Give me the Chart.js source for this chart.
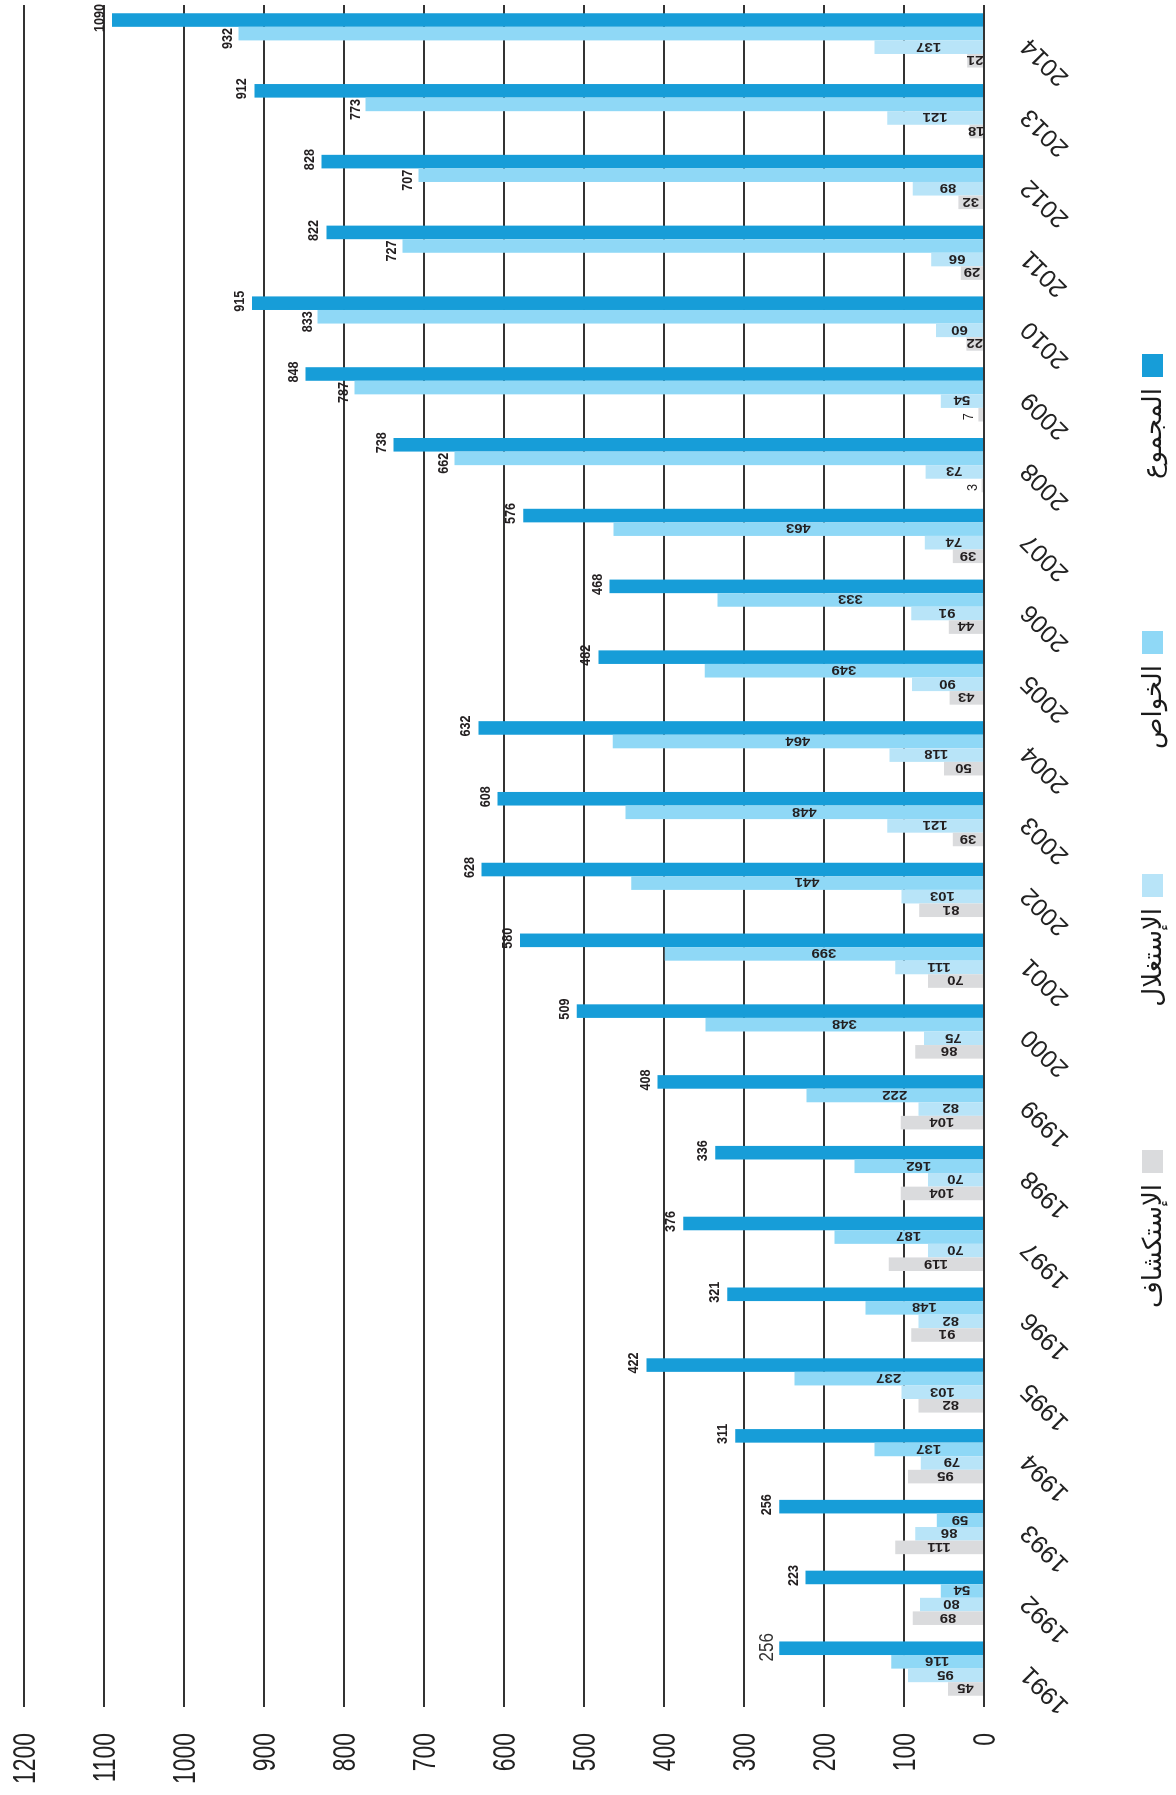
<!DOCTYPE html>
<html>
<head>
<meta charset="utf-8">
<script src="https://cdn.jsdelivr.net/npm/chart.js@4.4.1/dist/chart.umd.min.js"></script>
<style>
html,body{margin:0;padding:0;background:#fff;overflow:hidden;width:1176px;height:1795px;}
#wrap{position:absolute;left:0;top:0;width:1795px;height:1176px;transform-origin:0 0;transform:translate(0px,1795px) rotate(-90deg);}
canvas{display:block;}
</style>
</head>
<body>
<div id="wrap"><canvas id="c" width="1795" height="1176"></canvas></div>
<script>
// ---- data ----
const years = ['1991','1992','1993','1994','1995','1996','1997','1998','1999','2000','2001','2002','2003','2004','2005','2006','2007','2008','2009','2010','2011','2012','2013','2014'];
const exploration   = [45,89,111,95,82,91,119,104,104,86,70,81,39,50,43,44,39,3,7,22,29,32,18,21];
const exploitation  = [95,80,86,79,103,82,70,70,82,75,111,103,121,118,90,91,74,73,54,60,66,89,121,137];
const privateSector = [116,54,59,137,237,148,187,162,222,348,399,441,448,464,349,333,463,662,787,833,727,707,773,932];
const total         = [256,223,256,311,422,321,376,336,408,509,580,628,608,632,482,468,576,738,848,915,822,828,912,1090];
const seriesLabels  = ['الإستكشاف','الإستغلال','الخواص','المجموع'];
const valueTicks    = [0,100,200,300,400,500,600,700,800,900,1000,1100,1200];

const colors = ['#dadbdd','#b8e4f8','#8fd8f6','#179dd8'];
const W = 1795; // unrotated canvas width (= page height)
const FONT = '"Liberation Sans", Arial, sans-serif';
const AR_FONT = '"DejaVu Sans", sans-serif';
const TXT = '#231f20';

function txt(ctx, s, X, Y, ang, o) {
  ctx.save();
  ctx.translate(X, Y);
  ctx.rotate(ang);
  ctx.scale(o.sx || 1, 1);
  ctx.font = (o.weight || 'normal') + ' ' + o.size + 'px ' + (o.family || FONT);
  ctx.textAlign = o.align || 'center';
  ctx.textBaseline = 'alphabetic';
  ctx.fillStyle = o.color || TXT;
  ctx.fillText(s, 0, o.vc ? 0.358 * o.size : 0);
  ctx.restore();
}

const imageText = {
  id: 'imageText',
  afterDraw(chart) {
    const ctx = chart.ctx;
    const r = chart.currentDevicePixelRatio || 1;
    const ys = chart.scales.y, xs = chart.scales.x;
    ctx.save();
    // draw in page (rotated) coordinates
    ctx.setTransform(0, r, -r, 0, W * r, 0);

    // value axis tick labels
    ys.ticks.forEach(t => {
      const X = ys.getPixelForValue(t.value);
      txt(ctx, String(t.value), X, 1733, -Math.PI / 2, {size: 31, sx: 0.74, align: 'right', vc: true, color: '#222'});
    });

    // category labels
    years.forEach((yr, j) => {
      const Y = W - xs.getPixelForValue(j) + 3;
      txt(ctx, yr, 1024, Y, Math.PI * 1.25, {size: 25, align: 'right', vc: true, color: '#222'});
    });

    // value labels
    const all = [exploration, exploitation, privateSector, total];
    all.forEach((arr, i) => {
      const meta = chart.getDatasetMeta(i);
      arr.forEach((v, j) => {
        const el = meta.data[j];
        const endX = el.y, baseX = el.base, cY = W - el.x;
        if (i === 3) {
          if (j === 0) {
            txt(ctx, String(v), endX - 6, cY - 1, -Math.PI / 2, {size: 20, sx: 0.85, color: '#333'});
          } else {
            txt(ctx, String(v), endX - 8, cY - 2, -Math.PI / 2, {size: 14, weight: 'bold', sx: 0.9});
          }
        } else if (i === 2 && v >= 600) {
          txt(ctx, String(v), endX - 6, cY + 5, -Math.PI / 2, {size: 14, weight: 'bold', sx: 0.9});
        } else if (v < 10) {
          txt(ctx, String(v), endX - 5, cY + 2, -Math.PI / 2, {size: 14, sx: 0.9});
        } else {
          txt(ctx, String(v), (endX + baseX) / 2, cY, Math.PI, {size: 13, weight: 'bold', sx: 1.15, vc: true});
        }
      });
    });

    // legend
    const sqTop = [1150, 874, 631, 354];
    seriesLabels.forEach((lab, i) => {
      ctx.fillStyle = colors[i];
      ctx.fillRect(1142, sqTop[i], 21, 23);
      txt(ctx, lab, 1161, sqTop[i] + 23 + 11, -Math.PI / 2, {size: 26, family: AR_FONT, align: 'right', color: '#1a1a1a'});
    });

    ctx.restore();
  }
};

new Chart(document.getElementById('c'), {
  type: 'bar',
  data: {
    labels: years,
    datasets: [
      {label: seriesLabels[0], data: exploration,   backgroundColor: colors[0]},
      {label: seriesLabels[1], data: exploitation,  backgroundColor: colors[1]},
      {label: seriesLabels[2], data: privateSector, backgroundColor: colors[2]},
      {label: seriesLabels[3], data: total,         backgroundColor: colors[3]}
    ]
  },
  options: {
    responsive: false,
    animation: false,
    devicePixelRatio: 1,
    layout: {padding: {left: 88, right: 5, top: 24, bottom: 192}},
    datasets: {bar: {categoryPercentage: 0.767, barPercentage: 1.0, borderWidth: 0}},
    plugins: {legend: {display: false}, tooltip: {enabled: false}, title: {display: false}},
    scales: {
      x: {type: 'category', display: false, offset: true, grid: {display: false}},
      y: {
        min: 0, max: 1200,
        afterBuildTicks: s => { s.ticks = valueTicks.map(v => ({value: v})); },
        ticks: {display: false},
        border: {display: false},
        grid: {color: '#333', lineWidth: 2, drawTicks: true, tickLength: 3}
      }
    }
  },
  plugins: [imageText]
});
</script>
</body>
</html>
